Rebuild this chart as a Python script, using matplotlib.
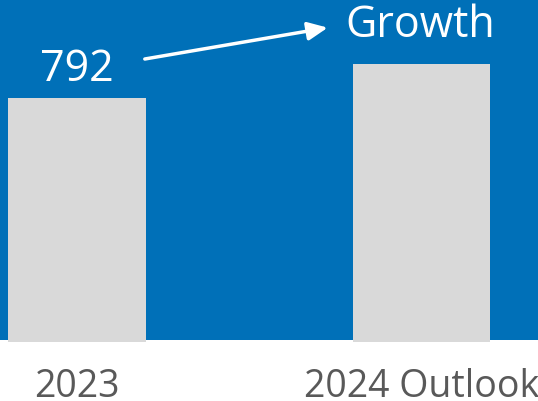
import matplotlib
matplotlib.use("Agg")
import matplotlib.pyplot as plt

categories = ["2023", "2024 Outlook"]
values = [792, 902]
value_labels = ["792", None]
growth_label = "Growth"

plt.rcParams['font.family'] = ['Open Sans', 'DejaVu Sans']

BLUE = "#0070B8"
BAR = "#D9D9D9"
LABEL = "#595959"

fig = plt.figure(figsize=(5.38, 4.01), dpi=100)
fig.patch.set_facecolor("white")
ax = fig.add_axes([0, 61 / 401, 1, 340 / 401])
ax.set_facecolor(BLUE)

x = list(range(len(categories)))
ax.bar(x, values, width=0.4, color=BAR, clip_on=False, zorder=2)

ppx = 344.5  # pixels per x unit
upp = 3.25   # data units per pixel
ax.set_xlim(-77 / ppx, (538 - 77) / ppx)
ax.set_ylim(1.7 * upp, 1.7 * upp + 340 * upp)

ax.set_xticks(x)
ax.set_xticklabels(categories, fontsize=27, color=LABEL)
ax.tick_params(axis='x', length=0, pad=20)
ax.set_yticks([])
for s in ax.spines.values():
    s.set_visible(False)

# value label on first bar
ax.annotate(value_labels[0], xy=(x[0], values[0]), xytext=(0, 12.2),
            textcoords='offset points', ha='center', va='baseline',
            fontsize=31, color='white')
# growth label above second bar
ax.annotate(growth_label, xy=(x[1], values[1]), xytext=(-0.8, 19.4),
            textcoords='offset points', ha='center', va='baseline',
            fontsize=31, color='white')

# arrow
ax.annotate("", xy=(x[1] - 93.8 / ppx, values[1] + 36.5 * upp),
            xytext=(x[0] + 67.8 / ppx, values[0] + 39 * upp),
            arrowprops=dict(arrowstyle="-|>,head_length=1.2,head_width=0.55",
                            color='white', lw=2.5, shrinkA=0, shrinkB=0))

fig.savefig("out.png", dpi=100, facecolor=fig.get_facecolor())
